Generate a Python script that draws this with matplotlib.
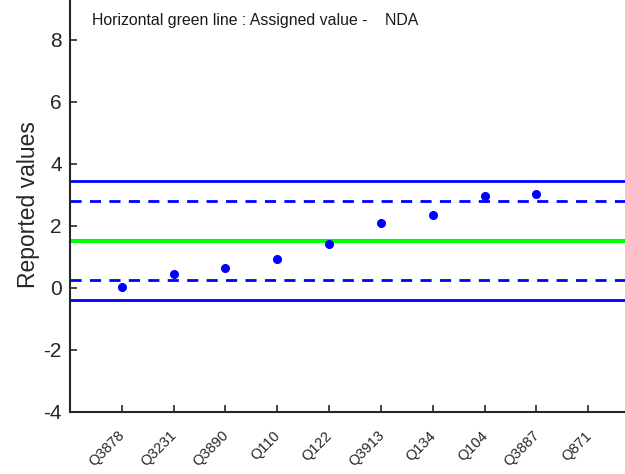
import matplotlib
matplotlib.use("Agg")
import matplotlib.pyplot as plt
import matplotlib.transforms as mtransforms

# Data
labs = ["Q3878", "Q3231", "Q3890", "Q110", "Q122", "Q3913", "Q134", "Q104", "Q3887", "Q871"]
vals = [0.02, 0.44, 0.62, 0.91, 1.40, 2.10, 2.35, 2.96, 3.02, None]
assigned = 1.51
inner = [0.24, 2.79]   # dashed limits
outer = [-0.41, 3.43]  # solid limits

plt.rcParams["font.family"] = ["Liberation Sans", "DejaVu Sans"]

fig = plt.figure(figsize=(6.25, 4.74), dpi=100)
# axes deliberately runs past the right/top edge as in the reference
ax = fig.add_axes([70 / 625, (474 - 411.7) / 474, 570 / 625, 434 / 474])

xs = list(range(1, len(labs) + 1))
px = [x for x, v in zip(xs, vals) if v is not None]
py = [v for v in vals if v is not None]

ax.axhline(assigned, color="#00ff00", lw=3.0)
for v in inner:
    ax.axhline(v, color="blue", lw=2.0, ls=(0, (4, 3)))
for v in outer:
    ax.axhline(v, color="blue", lw=2.0)
ax.plot(px, py, "o", color="blue", ms=5.5, zorder=5)

ax.set_xlim(0, 11)
ax.set_ylim(-4, 10)
ax.set_yticks([-4, -2, 0, 2, 4, 6, 8])
ax.set_yticklabels(["-4", "-2", "0", "2", "4", "6", "8"], fontsize=15)
ax.set_xticks(xs)
ax.set_xticklabels(labs, rotation=45, ha="right", rotation_mode="anchor", fontsize=10.5)
ax.tick_params(direction="in", length=5, width=1.2, colors="#262626", pad=6)
ax.tick_params(axis="x", pad=12)
shift = mtransforms.ScaledTranslation(-4 / 100, 0, fig.dpi_scale_trans)
for t in ax.get_xticklabels():
    t.set_transform(t.get_transform() + shift)
for s in ["left", "bottom", "right", "top"]:
    ax.spines[s].set_linewidth(1.5)
    ax.spines[s].set_color("#262626")

fig.text(29 / 625, 1 - 205 / 474, "Reported values", fontsize=16.5, rotation=90,
         ha="center", va="center", color="#262626")
fig.text(92 / 625, 1 - 20 / 474, "Horizontal green line : Assigned value -    NDA",
         fontsize=11.4, va="center", ha="left", color="#1a1a1a")

fig.savefig("out.png", dpi=100)
